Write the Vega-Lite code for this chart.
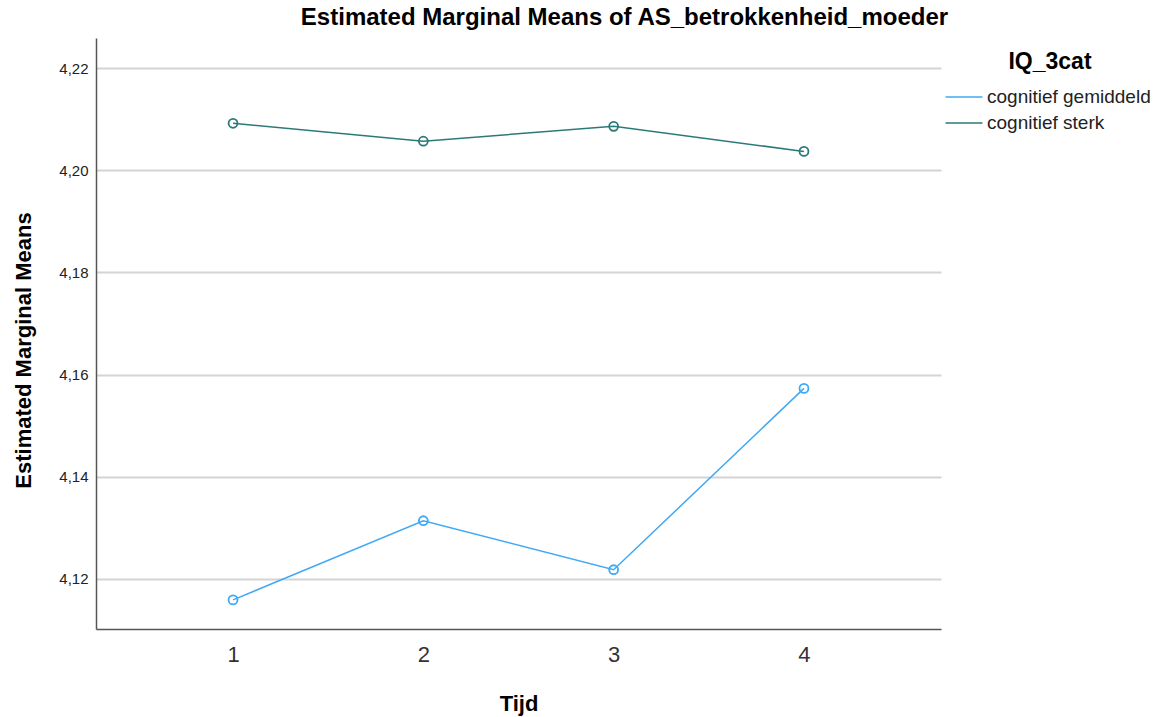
{
  "$schema": "https://vega.github.io/schema/vega-lite/v6.json",
  "autosize": {"type": "none"},
  "padding": {"left": 96, "top": 38, "right": 216, "bottom": 88},
  "width": 845,
  "height": 591,
  "background": "white",
  "config": {
    "font": "Liberation Sans",
    "view": {"stroke": null}
  },
  "title": {
    "text": "Estimated Marginal Means of AS_betrokkenheid_moeder",
    "fontSize": 24,
    "fontWeight": "bold",
    "color": "#000000",
    "anchor": "middle",
    "dx": 106,
    "offset": 8
  },
  "data": {
    "values": [
      {"Tijd": 1, "IQ_3cat": "cognitief gemiddeld", "mean": 4.1159},
      {"Tijd": 2, "IQ_3cat": "cognitief gemiddeld", "mean": 4.1314},
      {"Tijd": 3, "IQ_3cat": "cognitief gemiddeld", "mean": 4.1218},
      {"Tijd": 4, "IQ_3cat": "cognitief gemiddeld", "mean": 4.1573},
      {"Tijd": 1, "IQ_3cat": "cognitief sterk", "mean": 4.2092},
      {"Tijd": 2, "IQ_3cat": "cognitief sterk", "mean": 4.2057},
      {"Tijd": 3, "IQ_3cat": "cognitief sterk", "mean": 4.2086},
      {"Tijd": 4, "IQ_3cat": "cognitief sterk", "mean": 4.2037}
    ]
  },
  "encoding": {
    "x": {
      "field": "Tijd",
      "type": "quantitative",
      "scale": {"domain": [0.28, 4.72], "nice": false, "zero": false},
      "axis": {
        "values": [1, 2, 3, 4],
        "format": "d",
        "grid": false,
        "ticks": false,
        "domainColor": "#555555",
        "domainWidth": 1.5,
        "labelFontSize": 22,
        "labelColor": "#333333",
        "labelPadding": 15,
        "title": "Tijd",
        "titleFontSize": 22,
        "titleFontWeight": "bold",
        "titleColor": "#000000",
        "titlePadding": 28
      }
    },
    "y": {
      "field": "mean",
      "type": "quantitative",
      "scale": {"domain": [4.1102, 4.2259], "nice": false, "zero": false},
      "axis": {
        "values": [4.12, 4.14, 4.16, 4.18, 4.2, 4.22],
        "labelExpr": "replace(format(datum.value, '.2f'), '.', ',')",
        "grid": true,
        "gridColor": "#d4d4d4",
        "gridWidth": 2,
        "ticks": false,
        "domainColor": "#555555",
        "domainWidth": 1.5,
        "labelFontSize": 15,
        "labelColor": "#222222",
        "labelPadding": 8,
        "title": "Estimated Marginal Means",
        "titleFontSize": 22,
        "titleFontWeight": "bold",
        "titleColor": "#000000",
        "titleAngle": -90,
        "titleX": -73,
        "titleY": 312,
        "titleAlign": "center",
        "titleBaseline": "middle"
      }
    },
    "color": {
      "field": "IQ_3cat",
      "type": "nominal",
      "scale": {"domain": ["cognitief gemiddeld", "cognitief sterk"], "range": ["#3fa9f5", "#2b7a78"]},
      "legend": {
        "title": "IQ_3cat",
        "orient": "none",
        "legendX": 854,
        "legendY": 13,
        "titleFontSize": 23,
        "titleFontWeight": "bold",
        "titleColor": "#000000",
        "titleAnchor": "middle",
        "titlePadding": 9,
        "labelFontSize": 19,
        "labelColor": "#222222",
        "labelLimit": 400,
        "symbolType": "M-1.42,0L1.42,0",
        "symbolSize": 676,
        "symbolStrokeWidth": 1.5,
        "rowPadding": 2,
        "labelOffset": 9
      }
    }
  },
  "layer": [
    {"mark": {"type": "line", "strokeWidth": 1.5}},
    {"mark": {"type": "point", "filled": false, "size": 80, "strokeWidth": 1.8, "opacity": 1}}
  ]
}
